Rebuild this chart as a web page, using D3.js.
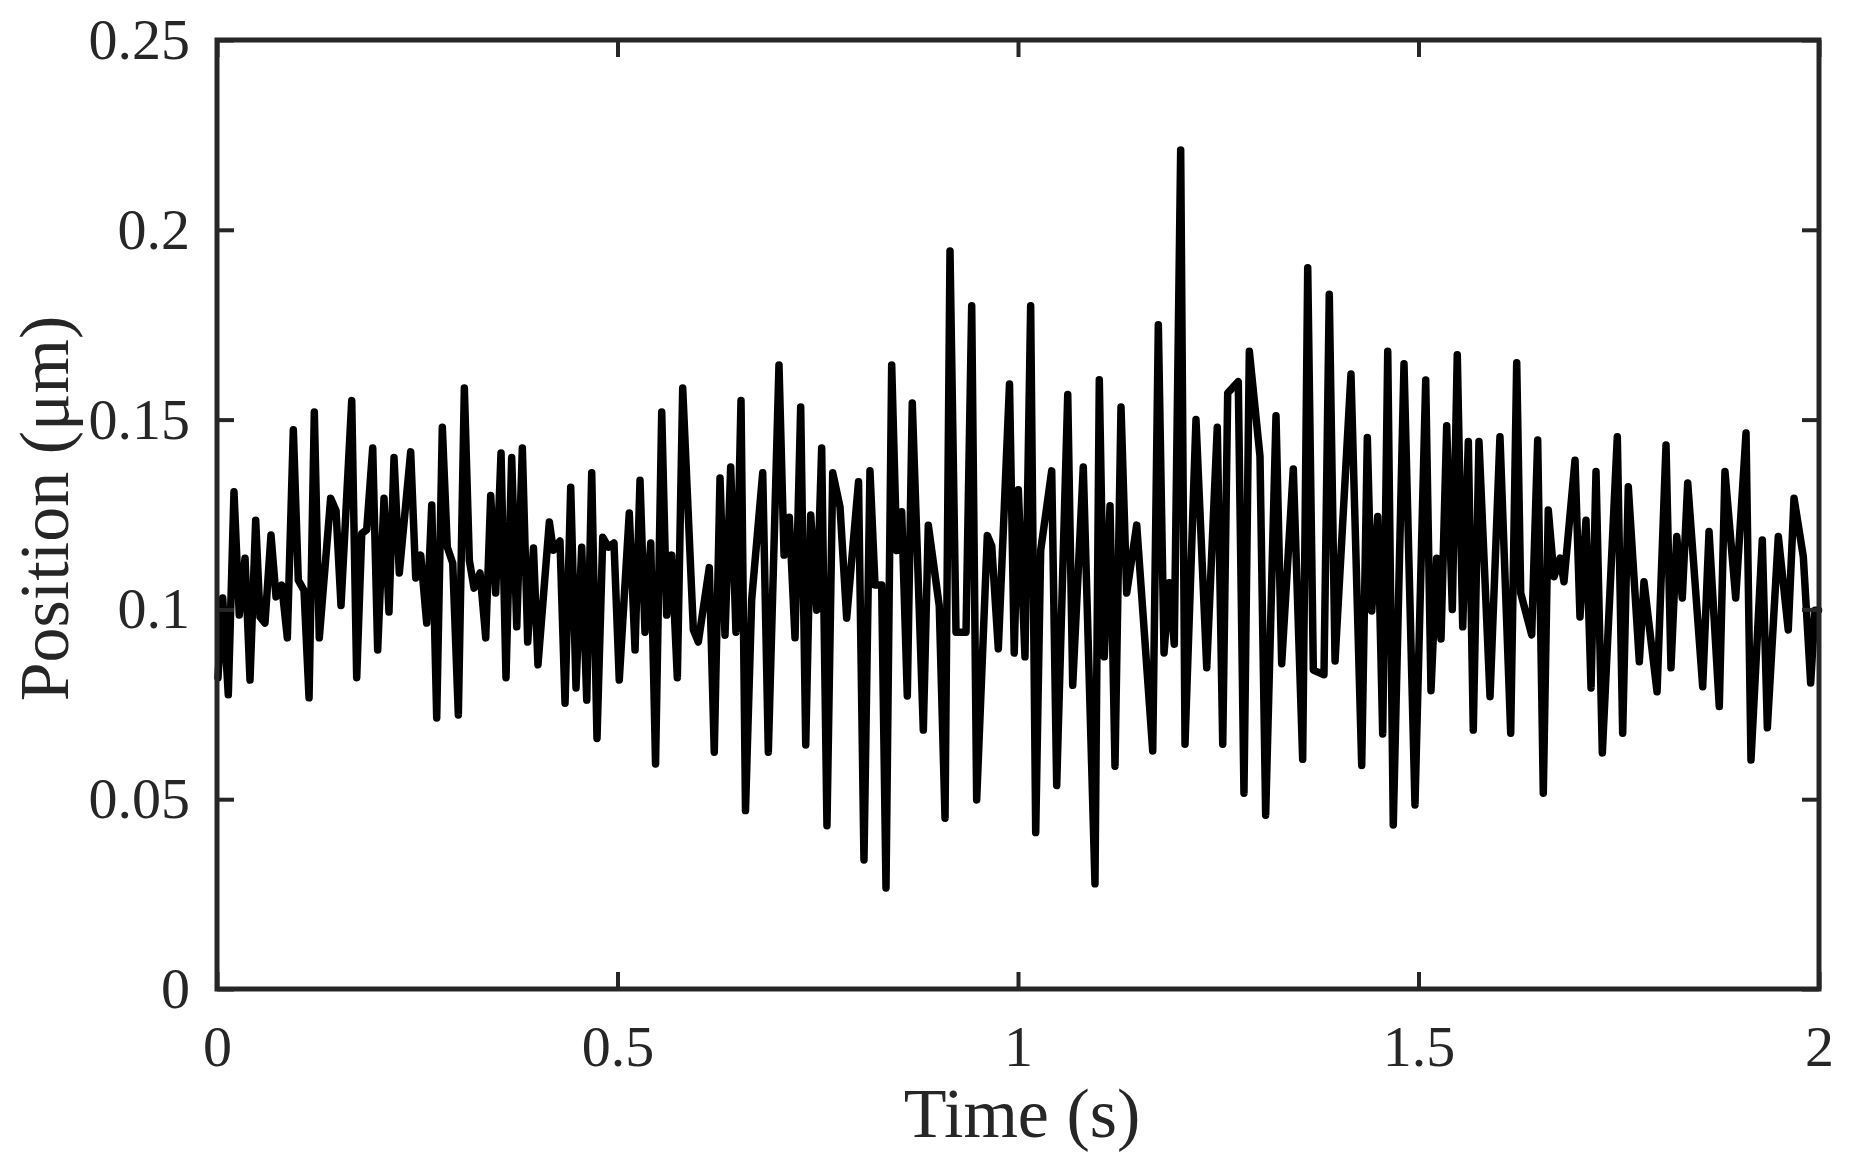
<!DOCTYPE html>
<html>
<head>
<meta charset="utf-8">
<script src="https://cdn.jsdelivr.net/npm/d3@7"></script>
<style>
  html, body { margin: 0; padding: 0; background: #fff; }
  svg { display: block; }
  text { font-family: "Liberation Serif", "Times New Roman", serif; fill: #262626; }
</style>
</head>
<body>
<svg id="chart" width="1857" height="1165"></svg>
<script>
// Time (s)
const times = [
0.0012,0.0071,0.0141,0.0212,0.0278,0.0350,0.0412,0.0483,0.0537,0.0599,0.0674,0.0737,0.0808,0.0878,0.0953,0.1015,0.1086,0.1149,0.1215,0.1277,0.1419,0.1486,0.1548,0.1682,0.1744,0.1807,0.1869,0.1944,0.2006,
0.2085,0.2147,0.2210,0.2276,0.2418,0.2481,0.2543,0.2618,0.2681,0.2743,0.2813,0.2875,0.2943,0.3013,0.3088,0.3150,0.3209,0.3284,0.3355,0.3417,0.3479,0.3546,0.3608,0.3679,0.3742,0.3812,0.3879,0.3951,0.4007,
0.4149,0.4199,0.4282,0.4345,0.4416,0.4482,0.4553,0.4616,0.4678,0.4744,0.4816,0.4885,0.4956,0.5022,0.5147,0.5219,0.5281,0.5343,0.5415,0.5475,0.5552,0.5614,0.5677,0.5747,0.5814,0.5947,0.6009,
0.6146,0.6208,0.6280,0.6342,0.6413,0.6479,0.6542,0.6598,0.6675,0.6813,0.6883,0.7016,0.7079,0.7145,0.7216,0.7287,0.7350,0.7412,0.7487,0.7549,0.7615,0.7687,0.7778,0.7861,0.8009,
0.8077,0.8152,0.8215,0.8298,0.8352,0.8423,0.8486,0.8548,0.8618,0.8680,0.8818,0.8880,0.9017,0.9089,0.9151,0.9226,0.9351,0.9422,0.9484,0.9617,0.9672,0.9754,0.9894,0.9953,1.0004,
1.0087,1.0158,1.0221,1.0283,1.0421,1.0483,1.0621,1.0683,1.0815,1.0961,1.1015,1.1077,1.1149,1.1211,1.1286,1.1357,1.1482,1.1682,1.1752,1.1823,1.1889,1.1951,
1.2031,1.2085,1.2222,1.2356,1.2488,1.2556,1.2618,1.2750,1.2821,1.2888,1.3021,1.3092,1.3221,1.3292,1.3437,1.3554,1.3617,1.3687,1.3820,1.3886,1.3958,
1.4157,1.4291,1.4361,1.4416,1.4491,1.4553,1.4616,1.4685,1.4819,1.4956,1.5090,1.5156,1.5227,1.5281,1.5352,1.5422,1.5484,1.5552,1.5622,1.5684,1.5755,1.5893,1.6017,
1.6151,1.6226,1.6276,1.6413,1.6488,1.6558,1.6620,1.6692,1.6767,1.6816,1.6954,1.7016,1.7091,1.7154,1.7216,1.7295,1.7482,1.7549,1.7619,1.7757,1.7815,1.7978,
1.8090,1.8152,1.8224,1.8293,1.8361,1.8548,1.8627,1.8755,1.8826,1.8960,1.9089,1.9151,1.9292,1.9355,1.9492,1.9616,1.9688,1.9804,1.9896,1.9950,1.9994
];
// Position (µm)
const positions = [
0.082,0.103,0.0775,0.131,0.0985,0.1135,0.0814,0.1235,0.098,0.0964,0.1196,0.1033,0.1064,0.0925,0.1473,0.1077,0.105,0.0767,0.152,0.0925,0.1293,0.126,0.101,0.155,0.082,0.120,0.121,0.1425,0.0893,
0.1293,0.0993,0.140,0.1096,0.1415,0.1083,0.1143,0.0964,0.1275,0.0714,0.148,0.1164,0.1122,0.0722,0.1583,0.113,0.1056,0.1096,0.0925,0.130,0.1043,0.1412,0.082,0.140,0.0954,0.1425,0.0914,0.1162,0.0854,
0.1230,0.1156,0.118,0.0753,0.1322,0.0793,0.1164,0.0761,0.136,0.066,0.119,0.1164,0.1175,0.0814,0.1254,0.0893,0.134,0.094,0.1175,0.0593,0.152,0.0985,0.1143,0.082,0.1583,0.0946,0.0914,
0.111,0.0624,0.1346,0.0932,0.1375,0.094,0.155,0.047,0.1025,0.136,0.0624,0.1644,0.1143,0.1243,0.0925,0.1533,0.0643,0.1249,0.0998,0.1425,0.043,0.136,0.127,0.0977,0.1336,
0.034,0.1365,0.1064,0.1064,0.0266,0.1644,0.1155,0.1257,0.0772,0.1544,0.0682,0.1222,0.1009,0.045,0.1944,0.094,0.094,0.180,0.0498,0.1195,0.1167,0.0896,0.1594,0.0885,0.1315,
0.0875,0.180,0.0412,0.1155,0.1365,0.0536,0.1566,0.080,0.1375,0.0277,0.1605,0.0875,0.1273,0.0587,0.1533,0.1043,0.1222,0.0627,0.175,0.0885,0.107,0.0908,
0.221,0.0645,0.150,0.0846,0.148,0.0645,0.157,0.160,0.0516,0.168,0.1404,0.0458,0.151,0.0857,0.137,0.0605,0.190,0.084,0.0828,0.183,0.0864,
0.162,0.0589,0.1453,0.0996,0.1245,0.0672,0.168,0.0432,0.1647,0.0485,0.1604,0.0786,0.1135,0.0922,0.1484,0.100,0.1671,0.0954,0.1442,0.0682,0.1442,0.077,0.1455,
0.0674,0.165,0.1043,0.0933,0.1446,0.0516,0.1262,0.1086,0.1135,0.1073,0.1393,0.098,0.1235,0.0793,0.1363,0.0622,0.1455,0.0674,0.1323,0.0862,0.1073,0.0783,
0.1433,0.0846,0.1192,0.103,0.1333,0.0796,0.1205,0.0744,0.1363,0.103,0.1465,0.0603,0.1183,0.0688,0.1192,0.0946,0.1293,0.1139,0.0806,0.0998,0.0998
];
const xTicks = [0, 0.5, 1, 1.5, 2];
const xTickLabels = ["0", "0.5", "1", "1.5", "2"];
const yTicks = [0, 0.05, 0.1, 0.15, 0.2, 0.25];
const yTickLabels = ["0", "0.05", "0.1", "0.15", "0.2", "0.25"];
const xLabel = "Time (s)";
const yLabel = "Position (\u03bcm)";

const data = times.map((t, i) => ({ t, v: positions[i] }));

const L = 217, R = 1819, T = 40, B = 989;
const svg = d3.select("#chart");
const xs = d3.scaleLinear().domain([0, 2]).range([L, R]);
const ys = d3.scaleLinear().domain([0, 0.25]).range([B, T]);

const axisColor = "#262626";
const tickLen = 17;

// data line
svg.append("path")
  .datum(data)
  .attr("fill", "none")
  .attr("stroke", "#000")
  .attr("stroke-width", 7.5)
  .attr("stroke-linejoin", "round")
  .attr("stroke-linecap", "round")
  .attr("d", d3.line().x(d => xs(d.t)).y(d => ys(d.v)));

// axes (ticks inward, mirrored)
const fs = 58;
const gBottom = svg.append("g").attr("transform", `translate(0,${B})`)
  .call(d3.axisBottom(xs).tickValues(xTicks).tickFormat((d, i) => xTickLabels[i]).tickSizeInner(-tickLen).tickSizeOuter(0).tickPadding(36));
const gTop = svg.append("g").attr("transform", `translate(0,${T})`)
  .call(d3.axisTop(xs).tickValues(xTicks).tickFormat("").tickSizeInner(-tickLen).tickSizeOuter(0));
const gLeft = svg.append("g").attr("transform", `translate(${L},0)`)
  .call(d3.axisLeft(ys).tickValues(yTicks).tickFormat((d, i) => yTickLabels[i]).tickSizeInner(-tickLen).tickSizeOuter(0).tickPadding(27));
const gRight = svg.append("g").attr("transform", `translate(${R},0)`)
  .call(d3.axisRight(ys).tickValues(yTicks).tickFormat("").tickSizeInner(-tickLen).tickSizeOuter(0));

[gBottom, gTop, gLeft, gRight].forEach(g => {
  g.select(".domain").remove();
  g.selectAll(".tick line").attr("stroke", axisColor).attr("stroke-width", 4);
  g.selectAll(".tick text").attr("font-size", fs).attr("font-family", "Liberation Serif").attr("fill", axisColor);
});

// box
svg.append("rect")
  .attr("x", L).attr("y", T).attr("width", R - L).attr("height", B - T)
  .attr("fill", "none").attr("stroke", axisColor).attr("stroke-width", 5);

// axis labels
svg.append("text")
  .attr("x", (L + R) / 2 + 4).attr("y", 1137)
  .attr("text-anchor", "middle").attr("font-size", 70).attr("fill", "#000")
  .text(xLabel);
svg.append("text")
  .attr("transform", `translate(68,${(T + B) / 2 - 6}) rotate(-90)`)
  .attr("text-anchor", "middle").attr("font-size", 70).attr("fill", "#000")
  .text(yLabel);
</script>
</body>
</html>
